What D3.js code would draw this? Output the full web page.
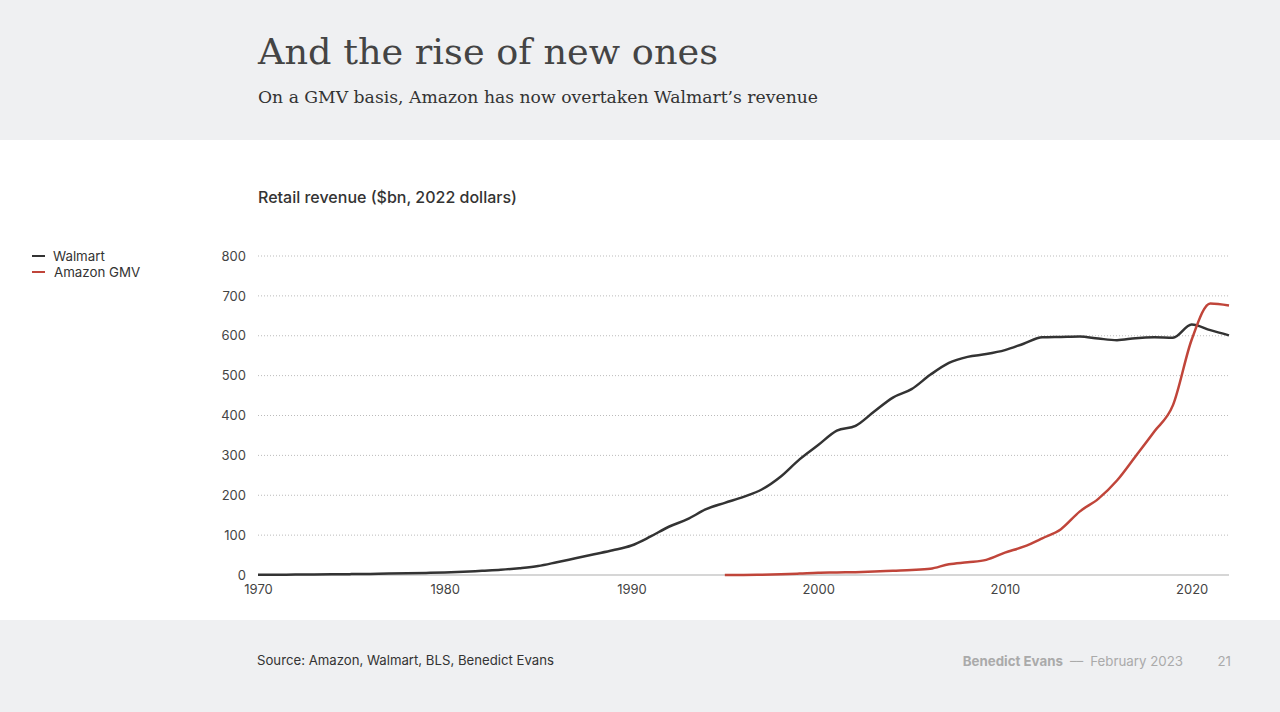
<!DOCTYPE html>
<html><head><meta charset="utf-8">
<script src="https://cdn.jsdelivr.net/npm/d3@7"></script>
<style>
html,body{margin:0;padding:0;background:#fff;}
svg{display:block;}
</style></head>
<body>
<svg id="c" width="1280" height="712"></svg>
<script>
const walmartYears = d3.range(1970, 2023);
const walmartValues = [0.5,0.7,1,1.3,1.7,2.2,2.8,3.5,4.3,5.2,6.2,8,10.5,13,17,22.5,32,42,52,62,74,
  96,121,140,165,181,196,215,247,290,326,362,374,410,445,466,502,532,547,554,564,
  580,596,597,598,593,589,594,596,595,628,614,601];
const amazonYears = d3.range(1995, 2023);
const amazonValues = [0,0.3,0.8,1.8,3.5,5.5,6.2,7.2,8.8,10.8,12.5,15.5,27,32,38,56,71,92,115,159,191,237,298,360,426,590,681,676];
const yTicks = [0,100,200,300,400,500,600,700,800];
const xTicks = [1970,1980,1990,2000,2010,2020];
const seriesNames = ["Walmart","Amazon GMV"];
const seriesColors = ["#333333","#c0453a"];

const svg = d3.select("#c");
const sans = "Inter, 'Noto Sans', sans-serif";
const serif = "'DejaVu Serif', 'Liberation Serif', serif";

// backgrounds
svg.append("rect").attr("x",0).attr("y",0).attr("width",1280).attr("height",140).attr("fill","#eff0f2");
svg.append("rect").attr("x",0).attr("y",620).attr("width",1280).attr("height",92).attr("fill","#eff0f2");

// header
svg.append("text").attr("x",258).attr("y",64).attr("font-family",serif).attr("font-size",36)
  .attr("fill","#444").attr("textLength",460).attr("lengthAdjust","spacingAndGlyphs").text("And the rise of new ones");
svg.append("text").attr("x",258).attr("y",103).attr("font-family",serif).attr("font-size",17)
  .attr("fill","#333").attr("textLength",560).attr("lengthAdjust","spacingAndGlyphs")
  .text("On a GMV basis, Amazon has now overtaken Walmart’s revenue");

svg.append("text").attr("x",258).attr("y",203).attr("font-family",sans).attr("font-size",16)
  .attr("font-weight",500).attr("fill","#333").text("Retail revenue ($bn, 2022 dollars)");

const x = d3.scaleLinear().domain([1970,2022]).range([258,1229]);
const y = d3.scaleLinear().domain([0,800]).range([575,256]);

// grid
const g = svg.append("g");
g.selectAll("line.grid").data(yTicks.filter(d=>d>0)).join("line")
  .attr("x1",258).attr("x2",1229).attr("y1",d=>y(d)).attr("y2",d=>y(d))
  .attr("stroke","#bbb").attr("stroke-width",1).attr("stroke-dasharray","1,2");
g.append("line").attr("x1",258).attr("x2",1229).attr("y1",y(0)).attr("y2",y(0))
  .attr("stroke","#c8c8c8").attr("stroke-width",1.5);

// y axis labels
const yAxis = d3.axisLeft(y).tickValues(yTicks).tickSize(0).tickPadding(12);
const ya = svg.append("g").attr("transform","translate(258,0)").call(yAxis);
ya.select(".domain").remove();
ya.selectAll("text").attr("font-family",sans).attr("font-size",13).attr("fill","#444");

const xAxis = d3.axisBottom(x).tickValues(xTicks).tickFormat(d3.format("d")).tickSize(0).tickPadding(10);
const xa = svg.append("g").attr("transform",`translate(0,${y(0)})`).call(xAxis);
xa.select(".domain").remove();
xa.selectAll("text").attr("font-family",sans).attr("font-size",13).attr("fill","#444");

// lines
const line = d3.line().x(d=>x(d[0])).y(d=>y(d[1])).curve(d3.curveMonotoneX);
const wData = walmartYears.map((yr,i)=>[yr,walmartValues[i]]);
const aData = amazonYears.map((yr,i)=>[yr,amazonValues[i]]);
svg.append("path").datum(wData).attr("d",line).attr("fill","none").attr("stroke",seriesColors[0]).attr("stroke-width",2.5);
svg.append("path").datum(aData).attr("d",line).attr("fill","none").attr("stroke",seriesColors[1]).attr("stroke-width",2.5);

// legend
const leg = svg.append("g");
seriesNames.forEach((n,i)=>{
  const yy = 256 + i*16;
  leg.append("line").attr("x1",32).attr("x2",45).attr("y1",yy).attr("y2",yy).attr("stroke",seriesColors[i]).attr("stroke-width",2);
  leg.append("text").attr("x",53+i).attr("y",yy+4.5).attr("font-family",sans).attr("font-size",13.3).attr("fill","#333").text(n);
});

// footer
svg.append("text").attr("x",257).attr("y",665).attr("font-family",sans).attr("font-size",13.2).attr("fill","#333")
  .text("Source: Amazon, Walmart, BLS, Benedict Evans");
const ft = svg.append("text").attr("x",1183).attr("y",666).attr("text-anchor","end").attr("font-family",sans).attr("font-size",13.3).attr("fill","#aaa");
ft.append("tspan").attr("font-weight",700).text("Benedict Evans");
ft.append("tspan").attr("dx",7).text("––");
ft.append("tspan").attr("dx",7).text("February 2023");
svg.append("text").attr("x",1231).attr("y",666).attr("text-anchor","end").attr("font-family",sans).attr("font-size",13.3).attr("fill","#aaa").text("21");
</script>
</body></html>
